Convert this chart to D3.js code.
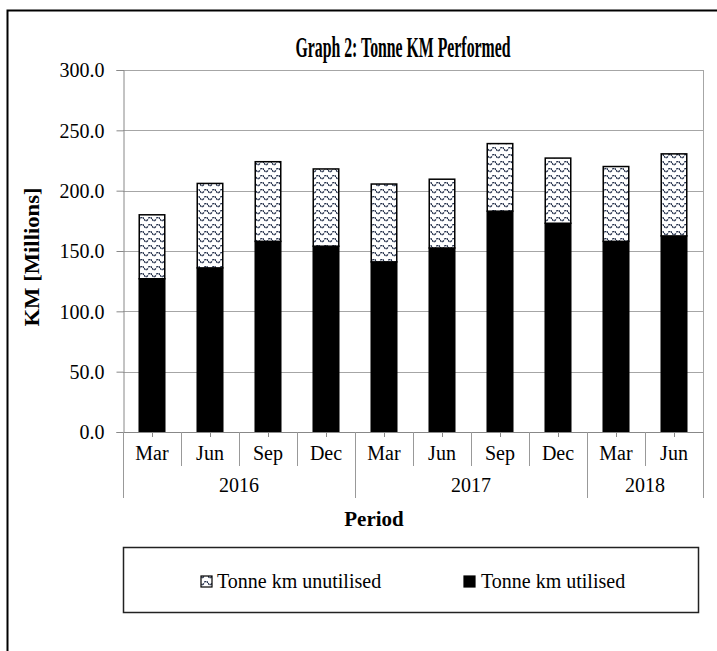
<!DOCTYPE html>
<html>
<head>
<meta charset="utf-8">
<script src="https://cdn.jsdelivr.net/npm/d3@7"></script>
<style>
  html, body { margin: 0; padding: 0; background: #fff; }
  svg { display: block; }
  svg text { font-family: "Liberation Serif", "Times New Roman", serif !important; fill: #000; }
</style>
</head>
<body>
<svg id="chart" width="717" height="651"></svg>
<script>
// ---- data ----
const categories = ["Mar", "Jun", "Sep", "Dec", "Mar", "Jun", "Sep", "Dec", "Mar", "Jun"];
const years = ["2016", "2016", "2016", "2016", "2017", "2017", "2017", "2017", "2018", "2018"];
const utilised = [127, 136, 158, 154, 141, 152.5, 183, 173, 158, 162.5];
const unutilised = [53, 70, 66, 64, 64.5, 57, 56, 54, 62, 68];
const yTicks = [0, 50, 100, 150, 200, 250, 300];
const seriesNames = ["Tonne km unutilised", "Tonne km utilised"];
const title = "Graph 2: Tonne KM Performed";
const yTitle = "KM [Millions]";
const xTitle = "Period";

// ---- layout ----
const svg = d3.select("#chart");
const plot = { left: 123, right: 703, top: 70, bottom: 432 };

// pattern for unutilised
const defs = svg.append("defs");
const pat = defs.append("pattern")
  .attr("id", "wave").attr("patternUnits", "userSpaceOnUse")
  .attr("width", 8).attr("height", 7);
pat.append("rect").attr("width", 8).attr("height", 7).attr("fill", "#fff");
pat.append("path")
  .attr("d", "M0,2 Q2,5.5 4,2 T8,2")
  .attr("fill", "none").attr("stroke", "#26324d").attr("stroke-width", 1.4)
  .attr("stroke-dasharray", "2.2,0.7");

// outer border
svg.append("rect").attr("x", 7.5).attr("y", 10.5).attr("width", 720).attr("height", 660)
  .attr("fill", "none").attr("stroke", "#000").attr("stroke-width", 2);

const idx = d3.range(categories.length);
const x = d3.scaleBand().domain(idx).range([plot.left, plot.right]).paddingInner(0.56).paddingOuter(0.28);
const y = d3.scaleLinear().domain([0, 300]).range([plot.bottom, plot.top]);

// gridlines
svg.append("g").selectAll("line").data(yTicks.filter(d => d > 0)).join("line")
  .attr("x1", plot.left).attr("x2", plot.right)
  .attr("y1", d => Math.round(y(d)) + 0.5).attr("y2", d => Math.round(y(d)) + 0.5)
  .attr("stroke", "#a6a6a6").attr("stroke-width", 1);
// right border of plot
svg.append("line").attr("x1", plot.right + 0.5).attr("x2", plot.right + 0.5)
  .attr("y1", plot.top).attr("y2", plot.bottom).attr("stroke", "#a6a6a6");

// y axis
const yAxis = d3.axisLeft(y).tickValues(yTicks).tickFormat(d3.format(".1f")).tickSize(7).tickPadding(12);
const gy = svg.append("g").attr("transform", `translate(${plot.left + 0.5},0)`).call(yAxis);
gy.attr("font-family", null);
gy.select(".domain").attr("stroke", "#888");
gy.selectAll(".tick line").attr("stroke", "#888");
gy.selectAll(".tick text").attr("font-size", 20).attr("fill", "#000").attr("dy", "0.34em");

// bars
const stackData = idx.map(i => ({ i, u: utilised[i], n: unutilised[i] }));
const gb = svg.append("g");
gb.selectAll("rect.util").data(stackData).join("rect").attr("class", "util")
  .attr("x", d => x(d.i)).attr("width", x.bandwidth())
  .attr("y", d => y(d.u)).attr("height", d => y(0) - y(d.u))
  .attr("fill", "#000").attr("stroke", "#000").attr("stroke-width", 1.5);
gb.selectAll("rect.unut").data(stackData).join("rect").attr("class", "unut")
  .attr("x", d => x(d.i)).attr("width", x.bandwidth())
  .attr("y", d => y(d.u + d.n)).attr("height", d => y(d.u) - y(d.u + d.n))
  .attr("fill", "url(#wave)").attr("stroke", "#000").attr("stroke-width", 1.5);

// x axis line
svg.append("line").attr("x1", plot.left).attr("x2", plot.right + 1)
  .attr("y1", plot.bottom + 0.5).attr("y2", plot.bottom + 0.5).attr("stroke", "#888");

const bx = i => plot.left + i * (plot.right - plot.left) / categories.length;
// small center ticks
svg.append("g").selectAll("line").data(idx).join("line")
  .attr("x1", d => Math.round(x(d) + x.bandwidth() / 2) + 0.5).attr("x2", d => Math.round(x(d) + x.bandwidth() / 2) + 0.5)
  .attr("y1", plot.bottom).attr("y2", plot.bottom + 5).attr("stroke", "#888");
// category separators
const yearStarts = idx.filter(i => i === 0 || years[i] !== years[i - 1]);
svg.append("g").selectAll("line").data(d3.range(categories.length + 1)).join("line")
  .attr("x1", d => Math.round(bx(d)) + 0.5).attr("x2", d => Math.round(bx(d)) + 0.5)
  .attr("y1", plot.bottom)
  .attr("y2", d => (d === categories.length || yearStarts.includes(d)) ? 498 : 466)
  .attr("stroke", "#999");
// category labels
svg.append("g").selectAll("text").data(idx).join("text")
  .attr("x", d => x(d) + x.bandwidth() / 2).attr("y", 460)
  .attr("text-anchor", "middle").attr("font-size", 20).text(d => categories[d]);
// year labels
const yearGroups = d3.groups(idx, i => years[i]);
svg.append("g").selectAll("text").data(yearGroups).join("text")
  .attr("x", d => (bx(d[1][0]) + bx(d[1][d[1].length - 1] + 1)) / 2).attr("y", 492)
  .attr("text-anchor", "middle").attr("font-size", 20).text(d => d[0]);

// titles
svg.append("text").attr("x", 403).attr("y", 57).attr("text-anchor", "middle")
  .attr("font-size", 29).attr("font-weight", "bold")
  .attr("textLength", 215).attr("lengthAdjust", "spacingAndGlyphs").text(title);
svg.append("text").attr("transform", "translate(39,257) rotate(-90)").attr("text-anchor", "middle")
  .attr("font-size", 22).attr("font-weight", "bold").attr("textLength", 139).attr("lengthAdjust", "spacingAndGlyphs").text(yTitle);
svg.append("text").attr("x", 374).attr("y", 526).attr("text-anchor", "middle")
  .attr("font-size", 21).attr("font-weight", "bold").text(xTitle);

// legend
svg.append("rect").attr("x", 123.5).attr("y", 547.5).attr("width", 575).attr("height", 65)
  .attr("fill", "#fff").attr("stroke", "#222").attr("stroke-width", 1.5);
const legendItems = [
  { name: seriesNames[0], fill: "url(#wave)", sx: 201, tx: 217 },
  { name: seriesNames[1], fill: "#000", sx: 464, tx: 481 }
];
const lg = svg.append("g");
lg.selectAll("rect").data(legendItems).join("rect")
  .attr("x", d => d.sx).attr("y", 576).attr("width", 11).attr("height", 11)
  .attr("fill", d => d.fill).attr("stroke", "#000").attr("stroke-width", 1.2);
lg.selectAll("text").data(legendItems).join("text")
  .attr("x", d => d.tx).attr("y", 588).attr("font-size", 20).text(d => d.name);
</script>
</body>
</html>
